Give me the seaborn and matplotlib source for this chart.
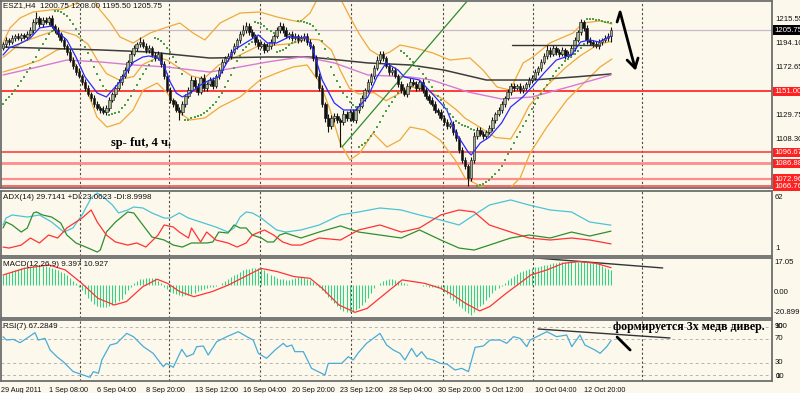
import numpy as np
import pandas as pd
import seaborn as sns
import matplotlib.pyplot as plt
import matplotlib.transforms as mtrans

# ---- price bars (H4, ESZ1) ----
first_open = 1190.0
closes = [
    1193.3, 1196.9, 1195.1, 1198.6, 1200.4, 1198.6, 1201.3, 1199.5, 1202.2, 1205.8,
    1212.9, 1216.5, 1211.1, 1214.7, 1212.9, 1216.5, 1209.3, 1205.8, 1202.2, 1196.9,
    1191.5, 1186.2, 1179.0, 1173.7, 1168.3, 1164.8, 1159.4, 1154.1, 1148.7, 1145.2,
    1139.8, 1136.3, 1134.5, 1132.7, 1136.3, 1143.4, 1148.7, 1154.1, 1159.4, 1164.8,
    1170.1, 1177.3, 1184.4, 1189.7, 1193.3, 1195.1, 1191.5, 1188.0, 1189.7, 1183.5,
    1180.8, 1184.4, 1175.5, 1164.8, 1152.3, 1143.4, 1139.8, 1134.5, 1132.7, 1139.8,
    1147.0, 1152.3, 1161.2, 1155.9, 1150.5, 1163.0, 1154.1, 1157.7, 1161.2, 1155.9,
    1164.8, 1170.1, 1177.3, 1180.8, 1182.6, 1186.2, 1191.5, 1196.9, 1202.2, 1205.8,
    1209.3, 1204.0, 1200.4, 1195.1, 1191.5, 1193.3, 1188.0, 1191.5, 1195.1, 1200.4,
    1205.8, 1209.3, 1205.8, 1200.4, 1202.2, 1198.6, 1200.4, 1196.9, 1198.6, 1200.4,
    1195.1, 1191.5, 1180.8, 1164.8, 1154.1, 1139.8, 1127.4, 1120.2, 1127.4, 1129.1,
    1125.6, 1123.8, 1130.9, 1127.4, 1132.7, 1125.6, 1134.5, 1138.1, 1145.2, 1152.3,
    1159.4, 1164.8, 1171.9, 1179.0, 1184.4, 1180.8, 1173.7, 1168.3, 1170.1, 1164.8,
    1157.7, 1152.3, 1148.7, 1155.9, 1159.4, 1157.7, 1154.1, 1159.4, 1152.3, 1147.0,
    1143.4, 1139.8, 1134.5, 1132.7, 1127.4, 1123.8, 1120.2, 1122.0, 1114.9, 1109.5,
    1098.9, 1090.0, 1084.6, 1073.9, 1090.0, 1111.3, 1116.7, 1113.1, 1111.3, 1114.9,
    1118.5, 1125.6, 1130.9, 1134.5, 1139.8, 1145.2, 1150.5, 1155.9, 1154.1, 1155.9,
    1152.3, 1154.1, 1157.7, 1161.2, 1163.0, 1168.3, 1171.9, 1177.3, 1182.6, 1188.0,
    1184.4, 1189.7, 1186.2, 1184.4, 1188.0, 1182.6, 1184.4, 1189.7, 1196.9, 1204.0,
    1212.9, 1207.6, 1196.9, 1195.1, 1193.3, 1191.5, 1195.1, 1196.9, 1198.6, 1200.75,
    1205.75]
up_wick = [
    2, 3, 1.5, 2.5, 2, 3, 1.5, 2, 3, 2.5, 3, 5.5, 2, 3, 2.5, 2, 3, 2, 2.5, 2,
    3, 2, 2.5, 3, 2, 3.5, 2, 2.5, 3, 2, 2.5, 3, 2, 4, 3, 2.5, 2, 3, 2.5, 2,
    3, 2, 2.5, 3, 2, 4, 3, 2.5, 3, 2, 3, 2.5, 2, 3, 2.5, 3, 2, 3, 2.5, 3,
    2, 3, 4, 2.5, 3, 2, 3.5, 2, 3, 2.5, 2, 3, 2.5, 2, 3, 2.5, 3, 2, 3, 4,
    3.5, 2.5, 3, 2, 3, 2.5, 2, 3, 2.5, 2, 3, 4, 2.5, 3, 2, 2.5, 3, 2, 2.5, 3,
    2.5, 3, 2, 3, 2.5, 3, 2, 3.5, 3, 2.5, 3, 2, 4, 3, 2.5, 3, 2, 3, 2.5, 2,
    3, 2.5, 3, 4, 3, 2.5, 2, 3, 2.5, 3, 2, 3, 2.5, 3, 4, 2.5, 3, 2, 3, 2.5,
    2, 3, 2.5, 2, 3, 2.5, 3, 2, 2.5, 3, 2, 2.5, 3, 2, 3, 4, 3, 2.5, 3, 2,
    2.5, 3, 2, 3, 2.5, 2, 3, 2.5, 3, 2, 3, 2.5, 2, 3, 2.5, 3, 2, 2.5, 3, 4,
    2.5, 3, 2, 3, 2.5, 2, 3, 2.5, 3, 2, 3, 2, 3, 2.5, 2, 3, 2.5, 2, 3, 2.5,
    2.25]
low_wick = [
    2, 2.5, 3, 2, 2.5, 2, 3, 2, 2.5, 2, 3, 2, 2.5, 3, 2, 2.5, 2, 3, 2.5, 2,
    2.5, 3, 2, 2.5, 3, 2, 2.5, 3, 2, 2.5, 3, 2, 2.5, 2, 3, 2.5, 2, 3, 2, 2.5,
    2, 2.5, 3, 2, 2.5, 3, 2, 2.5, 3, 2, 3, 2, 2.5, 3, 2, 2.5, 3, 2, 7, 3,
    2.5, 2, 3, 2.5, 3, 2, 2.5, 3, 2, 3, 2, 2.5, 3, 2, 2.5, 3, 2, 2.5, 3, 2,
    2.5, 3, 2, 3, 2.5, 2, 3, 2, 2.5, 3, 2, 2.5, 3, 2, 3, 2.5, 2, 3, 2, 2.5,
    3, 2.5, 3, 2, 3, 3, 4, 5, 3, 4, 3, 22, 3, 2.5, 3, 2, 3, 2.5, 2, 3,
    2, 2.5, 3, 2, 2.5, 3, 2, 2.5, 3, 2, 3, 2.5, 2, 3, 2.5, 2, 3, 2, 3, 2.5,
    3, 2, 2.5, 3, 2, 3, 2.5, 2, 3, 2.5, 3, 2.5, 3, 7, 3, 2.5, 3, 2, 2.5, 3,
    2, 2.5, 3, 2, 2.5, 3, 2, 2.5, 3, 2, 2.5, 3, 2, 2.5, 3, 2, 3, 2.5, 2, 3,
    2.5, 2, 3, 2.5, 2, 3, 2, 2.5, 3, 2, 3, 2.5, 4, 2.5, 3, 2, 2.5, 3, 2, 2.5,
    5.25]

# ---- moving averages (bar, value) ----
blue_bar = [0, 2, 6, 9, 12, 16, 18, 21, 24, 27, 31, 34, 36, 39, 41, 43, 46, 48, 51, 53,
            55, 57, 59, 62, 65, 68, 71, 76, 84, 87, 90, 94, 100, 102, 105, 109, 112, 116, 120, 123,
            126, 130, 132, 137, 141, 146, 149, 153, 154, 157, 160, 164, 167, 171, 174, 178, 182, 187, 190, 193,
            196, 200]
blue_val = [1183.5, 1189.7, 1194.2, 1198.6, 1207.6, 1209.3, 1204.0, 1196.9, 1181.7, 1163.9,
            1149.6, 1146.1, 1152.3, 1161.2, 1170.1, 1177.3, 1181.7, 1182.6, 1180.8, 1173.7,
            1159.4, 1149.6, 1146.1, 1150.5, 1156.8, 1161.2, 1163.9, 1188.0, 1201.3, 1194.2,
            1194.2, 1199.5, 1198.6, 1188.0, 1161.2, 1140.7, 1134.5, 1134.5, 1146.1, 1163.9,
            1176.4, 1170.0, 1163.9, 1161.2, 1149.6, 1134.5, 1114.0, 1097.1, 1094.4, 1105.1,
            1110.4, 1122.9, 1137.2, 1146.1, 1155.0, 1167.5, 1179.0, 1183.5, 1195.1, 1196.9,
            1195.1, 1200.4]
black_bar = [0, 32, 48, 68, 87, 101, 120, 134, 145, 159, 174, 188, 200]
black_val = [1190.6, 1188.0, 1186.2, 1180.8, 1181.7, 1181.7, 1176.4, 1174.6, 1170.1,
             1161.2, 1161.2, 1163.9, 1166.6]
mag_bar = [0, 10, 21, 32, 43, 54, 68, 76, 87, 98, 101, 109, 120, 134, 141, 153, 164, 174, 186, 200]
mag_val = [1165.7, 1171.9, 1179.0, 1177.3, 1174.6, 1172.8, 1168.3, 1171.9, 1177.3, 1181.7,
           1180.8, 1176.4, 1165.7, 1163.9, 1161.2, 1150.5, 1144.3, 1146.1, 1155.0, 1165.7]

# ---- Bollinger bands (bar, value) ----
bb_up_bar = [0, 2.3, 5.6, 9.9, 15.5, 19.7, 23.7, 27, 29.6, 31.9, 35.2, 38.5, 42.8, 48.4, 54, 58.2,
             62.5, 66.4, 71.4, 78, 84.5, 90.1, 94.4, 97.7, 101, 103.6, 107.6, 110.9, 114.1, 117.4,
             120.7, 124, 127.3, 130.6, 135.5, 141.4, 147, 153.6, 157.9, 162.5, 166.8, 171.1, 174.3,
             179.9, 187.5, 190.8, 196.4, 200.3]
bb_up_val = [1194.2, 1207.6, 1216.5, 1221.8, 1223.6, 1224.5, 1228.9, 1236.9, 1234.3, 1223.6, 1212.9,
             1199.5, 1194.2, 1203.1, 1208.4, 1212.0, 1203.1, 1196.9, 1212.0, 1220.9, 1221.8, 1217.4,
             1214.7, 1212.9, 1220.9, 1234.3, 1241.4, 1234.3, 1217.4, 1201.3, 1188.0, 1182.6, 1186.2,
             1192.4, 1189.7, 1185.3, 1179.0, 1180.8, 1170.1, 1155.0, 1152.3, 1176.4, 1181.7, 1194.2,
             1203.1, 1212.0, 1213.8, 1211.1]
bb_mid_bar = [0, 6, 12, 18, 24, 28, 31, 34, 38, 43, 46, 51, 54, 58, 62, 66, 71, 78, 84, 90,
              95, 100, 104, 108, 111, 114, 117, 122, 126, 131, 134, 139, 144, 149, 152, 157, 162,
              167, 170, 173, 179, 185, 190, 196, 200]
bb_mid_val = [1181.3, 1194.4, 1200.5, 1206.0, 1200.9, 1193.0, 1179.0, 1167.0, 1161.5, 1164.3, 1175.0,
              1181.5, 1179.0, 1171.9, 1164.8, 1162.2, 1174.6, 1183.5, 1191.5, 1192.4, 1193.7, 1197.8,
              1197.0, 1188.0, 1169.5, 1153.7, 1148.8, 1150.0, 1142.8, 1150.1, 1155.0, 1152.4, 1145.4,
              1135.0, 1127.2, 1118.9, 1110.0, 1108.7, 1122.0, 1138.0, 1156.4, 1172.2, 1183.0, 1193.3,
              1195.5]
bb_lo_bar = [0, 5.6, 12.2, 17.8, 21.1, 24.3, 27.6, 30.9, 34.2, 38.5, 42.8, 46.1, 50.7, 54, 58.2,
             61.5, 66.4, 71.4, 78, 84.5, 90.1, 95.4, 100, 104.3, 107.6, 110.9, 114.1, 117.4, 121.7,
             126.3, 130.6, 133.9, 138.8, 143.8, 148.7, 152, 156.9, 161.8, 166.8, 170.1, 173.4, 178.9,
             185.5, 189.8, 196.4, 200.3]
bb_lo_val = [1168.3, 1172.8, 1179.0, 1188.0, 1189.7, 1172.8, 1152.3, 1128.3, 1119.3, 1122.9, 1134.5,
             1152.3, 1158.5, 1149.6, 1131.8, 1125.6, 1127.4, 1137.2, 1146.1, 1161.2, 1167.5, 1172.8,
             1174.6, 1158.5, 1134.5, 1105.1, 1090.0, 1096.2, 1114.0, 1101.5, 1107.8, 1119.3, 1116.7,
             1107.8, 1090.0, 1073.9, 1066.8, 1063.2, 1065.0, 1073.9, 1096.2, 1119.3, 1143.4, 1155.0,
             1172.8, 1179.9]

# ---- Parabolic SAR, one dot per bar ----
sar_val = [
    1140, 1143, 1146, 1149, 1152, 1156, 1160, 1164, 1168, 1172, 1177, 1182, 1188, 1193, 1198, 1202, 1205,
    1223, 1222.5, 1221.5, 1220, 1218, 1215, 1211, 1207, 1202, 1197, 1191, 1185, 1179, 1173, 1167, 1161, 1156, 1152,
    1130, 1130.5, 1131.5, 1133, 1136, 1139, 1143, 1147, 1152, 1157, 1162, 1167, 1171, 1175, 1178,
    1199, 1198, 1196, 1193, 1190, 1186, 1182, 1177, 1172, 1167,
    1125.6, 1126, 1127, 1128, 1129, 1130, 1132, 1134, 1136, 1139, 1142, 1146, 1150, 1155, 1160, 1166, 1172,
    1178, 1183, 1188, 1191, 1193, 1195,
    1213, 1212, 1211, 1209, 1207, 1205, 1203,
    1186, 1187, 1188, 1190, 1192, 1194, 1195.5,
    1214, 1213.5, 1213, 1212, 1211, 1209, 1206, 1202, 1196, 1189, 1181, 1173, 1166, 1160, 1155, 1150, 1146,
    1142, 1139, 1137,
    1101.5, 1103, 1105, 1108, 1111, 1115, 1119, 1124, 1129, 1134, 1138, 1142, 1146, 1150,
    1187, 1185, 1183, 1180, 1177, 1174, 1171, 1167, 1163, 1159, 1155, 1151, 1147, 1143, 1139, 1135, 1131,
    1128, 1125, 1123, 1121, 1120, 1119, 1118, 1117,
    1066.8, 1067.5, 1068.5, 1070, 1072, 1074.5, 1077.5, 1081, 1085, 1090, 1095, 1100, 1105, 1110, 1115,
    1120, 1125, 1130, 1135, 1140, 1145, 1149, 1153, 1157, 1161, 1165, 1169, 1172, 1175, 1178, 1180, 1182,
    1184, 1187, 1190, 1193,
    1216, 1216, 1215.5, 1215, 1214.5, 1214, 1213, 1212.5, 1212]

red_levels = [1151.00, 1096.67, 1086.88, 1072.96, 1066.76]
last_price = 1205.75
price_ticks = [1215.55, 1194.10, 1172.65, 1129.75, 1108.30]

# ---- ADX(14) ----
adx_bar = [0, 1, 3, 8, 12, 16, 20, 23, 26, 29, 31, 33, 36, 38, 41, 43, 46, 49, 53, 55,
           58, 61, 65, 70, 74, 76, 78, 80, 82, 85, 87, 90, 93, 98,
           104, 111, 117, 124, 131, 137, 144, 150, 155, 160, 167, 173, 180, 187, 193, 200]
adx_val = [29.9, 37.6, 41.0, 38.7, 41.0, 33.2, 22.1, 26.6, 41.0, 59.8, 65.3, 60.9, 52.0, 43.2, 46.5, 49.8, 48.7, 43.2, 37.6, 37.6,
           43.2, 37.6, 33.2, 27.7, 22.1, 26.6, 38.7, 44.3, 43.2, 37.6, 32.1, 24.4, 22.1, 24.4,
           29.9, 41.0, 44.3, 48.7, 46.5, 41.0, 35.4, 29.9, 41.0, 52.0, 57.6, 52.0, 46.5, 44.3, 33.2, 29.7]
pdi_bar = [0, 1, 3, 6, 8, 10, 11, 13, 16, 19, 21, 24, 28, 31, 32, 34, 37, 41, 43, 46,
           49, 53, 56, 59, 62, 67, 69, 71, 74, 76, 78, 80, 82, 85, 87, 89, 91, 93, 95, 98,
           104, 111, 117, 124, 131, 137, 144, 150, 155, 160, 167, 173, 180, 187, 193, 200]
pdi_val = [26.6, 33.2, 29.9, 22.1, 26.6, 43.2, 44.3, 41.0, 38.7, 32.1, 18.8, 10.0, 4.4, 0.0, 2.2, 22.1, 33.2, 44.3, 43.2, 29.9,
           16.6, 13.3, 7.7, 5.5, 10.0, 10.0, 11.1, 22.1, 21.0, 29.9, 26.6, 26.6, 18.8, 15.5, 11.1, 11.1, 18.8, 21.0, 18.8, 15.5,
           22.1, 28.8, 22.1, 18.8, 15.5, 24.4, 13.3, 4.4, 2.2, 7.7, 15.5, 18.8, 15.5, 22.1, 17.7, 23.1]
mdi_bar = [0, 2, 6, 9, 12, 15, 18, 21, 24, 26, 29, 31, 34, 37, 41, 44, 47, 51, 53, 56,
           58, 61, 62, 65, 67, 70, 74, 77, 80, 82, 86, 89, 92, 95, 98,
           104, 111, 117, 124, 131, 137, 144, 150, 155, 160, 167, 173, 180, 187, 193, 200]
mdi_val = [5.5, 4.4, 7.7, 15.5, 10.0, 18.8, 15.5, 26.6, 33.2, 37.6, 46.5, 33.2, 18.8, 11.1, 7.7, 10.0, 5.5, 18.8, 29.9, 27.7,
           22.1, 15.5, 26.6, 11.1, 22.1, 13.3, 10.0, 5.5, 10.0, 18.8, 24.4, 18.8, 11.1, 7.7, 7.7,
           15.5, 13.3, 24.4, 29.9, 22.1, 26.6, 41.0, 46.5, 44.3, 29.9, 22.1, 15.5, 13.3, 15.5, 13.3, 9.0]

# ---- MACD(12,26,9) ----
macd_hist = [
    6.3, 7.0, 7.8, 8.6, 9.4, 10.0, 10.6, 11.2, 11.8, 12.3,
    12.7, 12.6, 12.4, 12.2, 11.9, 11.6, 10.9, 10.1, 9.3, 8.4,
    7.4, 6.0, 4.4, 2.7, 1.0, -1.1, -3.4, -5.6, -8.0, -10.0,
    -11.8, -13.6, -13.9, -14.1, -14.1, -13.6, -12.9, -11.6, -10.1, -8.6,
    -6.0, -3.5, -1.0, 1.0, 2.7, 3.5, 4.0, 4.5, 4.6, 4.4,
    4.2, 2.8, 1.0, -1.0, -2.6, -4.2, -5.0, -5.7, -6.2, -6.7,
    -6.5, -6.2, -5.9, -5.0, -3.8, -3.0, -2.5, -2.1, -1.6, -1.0,
    -0.5, 0.0, 1.2, 2.4, 3.6, 4.8, 6.0, 7.2, 8.2, 9.3,
    9.8, 10.2, 10.5, 10.7, 10.9, 10.6, 9.2, 7.6, 6.4, 5.4,
    4.6, 4.0, 3.5, 3.2, 3.4, 3.7, 4.2, 4.8, 5.3, 4.5,
    3.8, 3.2, 2.0, 0.5, -1.5, -3.5, -5.3, -7.5, -9.8, -11.6,
    -13.4, -15.2, -16.6, -17.0, -17.3, -16.8, -15.8, -14.8, -12.8, -10.6,
    -8.5, -5.2, -2.2, 0.2, 1.5, 2.5, 3.0, 3.5, 3.8, 3.4,
    2.8, 2.0, 1.0, 0.4, 0.2, 0.1, 0.0, -0.3, -0.6, -0.8,
    -1.0, -1.1, -1.5, -1.9, -2.4, -4.2, -6.0, -8.0, -9.8, -11.6,
    -13.0, -14.8, -16.2, -17.8, -19.0, -16.8, -14.8, -13.3, -11.8, -9.5,
    -7.5, -5.0, -3.5, -2.0, -0.8, 1.2, 3.0, 4.6, 5.8, 7.0,
    8.0, 8.8, 9.5, 10.1, 10.7, 11.2, 11.6, 12.0, 12.4, 12.8,
    13.2, 13.6, 14.0, 14.3, 14.4, 14.6, 14.7, 14.8, 14.8, 14.8,
    14.8, 14.8, 14.5, 14.2, 14.0, 13.7, 13.0, 12.0, 11.0, 10.2,
    9.4]
sig_bar = [0, 7.1, 15.1, 20.5, 25.9, 31.2, 36.6, 40.6, 46, 50.7,
           54.1, 58.1, 62.8, 68.8, 74.2, 79.6, 84.9, 90.3, 95.7, 101,
           105, 110.5, 115.8, 119.8, 125.2, 131.3, 138.6, 144, 148, 152.1,
           156.8, 160.1, 165.5, 173.6, 178.9, 184.3, 189.7, 195, 200]
sig_val = [6.3, 10.5, 12.65, 9.5, 1.05, -8.4, -12.65, -10.5, -1.05, 3.6,
           1.05, -4.2, -7.4, -4.2, 0, 5.3, 10.5, 8.4, 5.3, 4.2,
           -2.1, -12.65, -17.3, -14.8, -6.3, 3.2, 1.05, -2.1, -6.3, -11.6,
           -16.4, -13.7, -5.3, 6.3, 9.5, 13.7, 14.8, 13.7, 10.93]

# ---- RSI(7) ----
rsi_bar = [0, 1.2, 3.4, 5.6, 7.8, 10.5, 11.6, 13.8, 15.5, 17.7,
           19.8, 23.1, 26.4, 28.6, 29.7, 31.4, 32.5, 35.2, 37.4, 40.7,
           42.9, 46.2, 49.4, 52.7, 53.8, 56, 58.8, 60.4, 62.6, 63.7,
           65.9, 67.5, 70.3, 73.6, 77.4, 80.2, 82.3, 84, 86.7, 89.5,
           92.2, 93.3, 95, 96, 98.8, 101.5, 105.9, 107, 111.4, 113.6,
           115.2, 116.9, 119.6, 124, 126.2, 128.4, 130.6, 132.2, 134.4, 136.1,
           137.7, 139.4, 141.6, 143.8, 146, 148.7, 150.9, 153.1, 155.3, 158,
           160.2, 163.5, 165.7, 167.9, 170.1, 172.3, 173.4, 175.6, 178.9, 182.1,
           185.4, 187.1, 189.8, 191.4, 194.7, 196.4, 198.6, 200]
rsi_val = [73.9, 68.3, 69.4, 63.9, 71.1, 80.6, 68.3, 71.1, 51.7, 40.6,
           32.2, 15.6, 10, 6.1, 15.6, 12.8, 35, 60, 62.8, 79.4,
           73.9, 57.2, 46.1, 23.9, 29.4, 22.8, 52.8, 40.6, 45, 57.2,
           58.3, 43.3, 65.6, 73.9, 82.2, 73.9, 68.3, 46.1, 37.8, 51.7,
           62.8, 57.2, 60, 48.9, 48.9, 21.1, 10, 29.4, 29.4, 40.6,
           35, 47.2, 62.8, 79.4, 60, 51.7, 46.1, 35, 54.4, 40.6,
           48.9, 37.8, 35, 29.4, 28.3, 18.3, 21.1, 15.6, 56.1, 58.3,
           68.3, 68.3, 62.8, 73.9, 71.1, 57.2, 68.3, 73.9, 82.2, 73.9,
           76.7, 57.2, 76.7, 60, 51.7, 46.1, 57.2, 67.3]

time_labels = ["29 Aug 2011", "1 Sep 08:00", "6 Sep 04:00", "8 Sep 20:00", "13 Sep 12:00",
               "16 Sep 04:00", "20 Sep 20:00", "23 Sep 12:00", "28 Sep 04:00", "30 Sep 20:00",
               "5 Oct 12:00", "10 Oct 04:00", "12 Oct 20:00"]
time_label_bar = [-0.6, 15, 31, 47, 63, 79, 95, 111, 127, 143, 159, 175, 191]
grid_bar = [25.3, 54.6, 84.5, 114.5, 144.7, 174.3, 210.2]

# ---------------------------------------------------------------
sns.set_style("white")
plt.rcParams['font.family'] = ['Liberation Sans', 'DejaVu Sans']
FS = 5.8

W, H = 800, 393
BG = '#fcf8ec'
fig = plt.figure(figsize=(W / 100, H / 100), dpi=100, facecolor=BG)


def panel(top, bottom, ylim):
    ax = fig.add_axes([1 / W, 1 - bottom / H, 771 / W, (bottom - top) / H])
    ax.set_facecolor(BG)
    for s in ax.spines.values():
        s.set_color('#6e6e6e')
        s.set_linewidth(1.3)
        s.set_zorder(10)
    ax.set_xlim(-0.66, 252.96)
    ax.set_ylim(*ylim)
    ax.set_xticks([])
    ax.set_yticks([])
    for b in grid_bar:
        ax.axvline(b, color='#4a4a4a', lw=0.8, ls=(0, (2, 2)), zorder=1)
    return ax


def ftext(x, y, s, **kw):
    fig.text(x / W, 1 - y / H, s, va='center', ha='left', **kw)


ax_p = panel(1, 188, (1065.0, 1231.6))
ax_adx = panel(191, 256, (-4.4, 67.5))
ax_macd = panel(258, 318, (-20.9, 17.05))
ax_rsi = panel(320, 381, (0, 101.7))

# ---- candles ----
df = pd.DataFrame({'bar': np.arange(len(closes)), 'close': closes})
df['open'] = [first_open] + closes[:-1]
body_lo = df[['open', 'close']].min(axis=1)
body_hi = df[['open', 'close']].max(axis=1)
df['high'] = body_hi + np.array(up_wick)
df['low'] = body_lo - np.array(low_wick)
bull = df['close'] >= df['open']

# level lines
ax_p.axhline(last_price, color='#cbb9c8', lw=0.9, zorder=1)
for lv, c, w in zip(red_levels, ['#ff3b3b', '#ff3030', '#ff8c8c', '#ff8c8c', '#ff4040'],
                    [1.4, 1.1, 2.0, 1.6, 1.1]):
    ax_p.axhline(lv, color=c, lw=w, zorder=1)

# bands and averages under the candles
for bx, by in [(bb_up_bar, bb_up_val), (bb_mid_bar, bb_mid_val), (bb_lo_bar, bb_lo_val)]:
    sns.lineplot(x=bx, y=by, ax=ax_p, color='#eeaa3a', lw=0.9, zorder=2)
sns.lineplot(x=black_bar, y=black_val, ax=ax_p, color='#3c3c3c', lw=1.1, zorder=2)
sns.lineplot(x=mag_bar, y=mag_val, ax=ax_p, color='#d67ad6', lw=1.0, zorder=2)

ax_p.vlines(df['bar'], df['low'], df['high'], color='#111111', lw=0.8, zorder=3)
ax_p.bar(df['bar'], (body_hi - body_lo).clip(lower=0.6), bottom=body_lo, width=0.85,
         color=np.where(bull, '#a2b292', '#111111'), edgecolor='#222222', linewidth=0.45, zorder=4)

sns.lineplot(x=blue_bar, y=blue_val, ax=ax_p, color='#2a2aff', lw=0.9, zorder=5)
sns.scatterplot(x=df['bar'], y=sar_val, ax=ax_p, color='#4f9f4f', marker='s', s=3,
                linewidth=0, zorder=5)

# drawn objects
ax_p.plot([111.5, 153.0], [1101.5, 1232.5], color='#2e8b2e', lw=0.9, zorder=2)
ax_p.plot([167.4, 196.4], [1192.4, 1192.4], color='#333333', lw=1.0, zorder=5)
ax_p.plot([202.0, 203.0, 207.9], [1212.9, 1221.8, 1171.9], color='black', lw=2.0)
ax_p.plot([205.3, 207.9, 208.9], [1179.0, 1171.9, 1180.8], color='black', lw=2.0)

# ---- ADX ----
sns.lineplot(x=adx_bar, y=adx_val, ax=ax_adx, color='#4cc3d6', lw=0.9)
sns.lineplot(x=pdi_bar, y=pdi_val, ax=ax_adx, color='#2f8f2f', lw=0.9)
sns.lineplot(x=mdi_bar, y=mdi_val, ax=ax_adx, color='#ff3333', lw=0.9)

# ---- MACD ----
ax_macd.vlines(np.arange(len(macd_hist)), 0, macd_hist, color='#2ed47f', lw=0.75, zorder=2)
sns.lineplot(x=sig_bar, y=sig_val, ax=ax_macd, color='#ff3333', lw=0.9, zorder=3)
ax_macd.plot([175, 217], [17.1, 10.75], color='#333333', lw=1.0)

# ---- RSI ----
for lv in [90, 70, 30, 10]:
    ax_rsi.axhline(lv, color='#b4b4b4', lw=0.7, ls=(0, (3, 3)), zorder=1)
sns.lineplot(x=rsi_bar, y=rsi_val, ax=ax_rsi, color='#48acd8', lw=0.9)
ax_rsi.plot([176, 219.4], [86.7, 71.7], color='#333333', lw=1.0)
ax_rsi.plot([202, 206.3], [73.3, 51.7], color='black', lw=2.0)

for ax in [ax_p, ax_adx, ax_macd, ax_rsi]:
    ax.set_xlabel('')
    ax.set_ylabel('')

# ---- time axis ----
ax_rsi.set_xticks(time_label_bar)
ax_rsi.set_xticklabels(time_labels, fontsize=5.2, ha='left')
ax_rsi.tick_params(axis='x', length=3, pad=1.5, color='#555555', labelcolor='#111111')

# ---- price scale ----
tr = mtrans.blended_transform_factory(ax_p.transAxes, ax_p.transData)
for v in price_ticks:
    ax_p.text(1.004, v, f'{v:.2f}', transform=tr, fontsize=5.6, va='center', ha='left', color='#111111')
for v, c in [(last_price, 'black')] + [(lv, '#ff2020') for lv in red_levels]:
    ax_p.text(1.003, v, f'{v:.2f}', transform=tr, fontsize=5.6, va='center', ha='left', color='white',
              bbox=dict(boxstyle='square,pad=0.15', fc=c, ec='none'))

for x, y, s in [(775, 198, '62'), (775, 248, '1'),
                (774, 263, '17.05'), (774, 293, '0.00'), (774, 313, '-20.899'),
                (774, 326, '100'), (775, 326, '90'), (775, 339, '70'), (775, 363, '30'),
                (775, 376, '10'), (776, 376, '0')]:
    ftext(x, y, s, fontsize=5.6, color='#111111')

# ---- titles / notes ----
ftext(3, 6, 'ESZ1,H4  1200.75 1208.00 1195.50 1205.75', fontsize=FS, color='#111111')
ftext(3, 198, 'ADX(14) 29.7141 +DI:23.0623 -DI:8.9998', fontsize=FS, color='#111111')
ftext(3, 265, 'MACD(12,26,9) 9.397 10.927', fontsize=FS, color='#111111')
ftext(3, 327, 'RSI(7) 67.2849', fontsize=FS, color='#111111')
ftext(111, 143, 'sp- fut, 4 ч.', fontsize=9, fontweight='bold', family='Liberation Serif', color='black')
ftext(613, 327, 'формируется 3х медв дивер.', fontsize=8.6, fontweight='bold', family='Liberation Serif', color='black')

fig.savefig('out.png', dpi=100, facecolor=BG)
